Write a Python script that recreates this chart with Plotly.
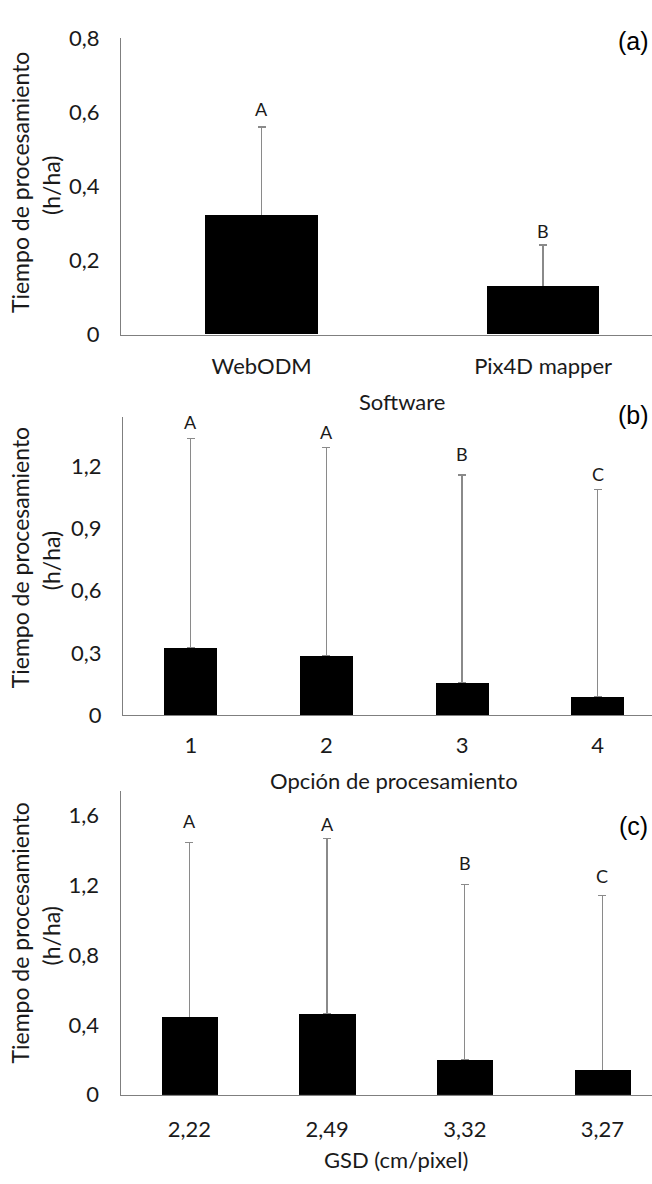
import plotly.graph_objects as go

# ---- data ----
software = ["WebODM", "Pix4D mapper"]
software_mean = [0.322, 0.130]
software_err = [0.239, 0.112]
software_letters = ["A", "B"]

opcion = ["1", "2", "3", "4"]
opcion_mean = [0.327, 0.287, 0.159, 0.088]
opcion_err = [1.007, 1.004, 0.999, 0.999]
opcion_letters = ["A", "A", "B", "C"]

gsd = ["2,22", "2,49", "3,32", "3,27"]
gsd_mean = [0.444, 0.463, 0.201, 0.140]
gsd_err = [1.001, 1.003, 1.004, 1.001]
gsd_letters = ["A", "A", "B", "C"]

yticks_a = [0, 0.2, 0.4, 0.6, 0.8]
yticktext_a = ["0", "0,2", "0,4", "0,6", "0,8"]
yticks_b = [0, 0.3, 0.6, 0.9, 1.2]
yticktext_b = ["0", "0,3", "0,6", "0,9", "1,2"]
yticks_c = [0, 0.4, 0.8, 1.2, 1.6]
yticktext_c = ["0", "0,4", "0,8", "1,2", "1,6"]

# ---- page geometry (pixels) ----
W, H = 652, 1184
FONT = "Lato"
TXT = "#1a1a1a"
AXIS = "#7f7f7f"
ERR = "#8a8a8a"
TICK_SIZE = 22


def px(x):
    return x / W


def py(y):
    return 1 - y / H


panels = [
    dict(cats=software, mean=software_mean, err=software_err, letters=software_letters,
         shifts=[18, 14], width=0.40, xdom=(121, 652), ydom=(25, 328), xmax=1.387,
         ymax=0.8, tv=yticks_a, tt=yticktext_a, xtitle="Software", xty=397, xtx=402,
         tag="(a)", tagy=28, ytitle_y=173, xticklen=12),
    dict(cats=opcion, mean=opcion_mean, err=opcion_err, letters=opcion_letters,
         shifts=[16, 15, 21, 16], width=0.39, xdom=(123, 652), ydom=(412, 717.7), xmax=3.4,
         ymax=1.439, tv=yticks_b, tt=yticktext_b, xtitle="Opción de procesamiento", xty=784,
         xtx=394, tag="(b)", tagy=410, ytitle_y=557, xticklen=10),
    dict(cats=gsd, mean=gsd_mean, err=gsd_err, letters=gsd_letters,
         shifts=[21, 15, 21, 19], width=0.41, xdom=(120.6, 652), ydom=(795, 1106), xmax=3.36,
         ymax=1.74, tv=yticks_c, tt=yticktext_c, xtitle="GSD (cm/pixel)", xty=1172,
         xtx=396, tag="(c)", tagy=831, ytitle_y=941, xticklen=15),
]

fig = go.Figure()
annotations = []
layout_axes = {}

for i, p in enumerate(panels, start=1):
    xa = "x" if i == 1 else f"x{i}"
    ya = "y" if i == 1 else f"y{i}"
    n = len(p["cats"])
    # bar with upward-only error bar
    fig.add_trace(go.Bar(
        x=p["cats"], y=p["mean"], width=p["width"],
        marker=dict(color="black", line=dict(width=0)),
        error_y=dict(type="data", array=p["err"], arrayminus=[0] * n,
                     symmetric=False, color=ERR, thickness=1.3, width=4),
        xaxis=xa, yaxis=ya, showlegend=False, hoverinfo="skip",
    ))
    # same bar again on top so the error bar starts cleanly at the bar top
    fig.add_trace(go.Bar(
        x=p["cats"], y=p["mean"], width=p["width"],
        marker=dict(color="black", line=dict(width=0)),
        xaxis=xa, yaxis=ya, showlegend=False,
    ))
    xkey = "xaxis" if i == 1 else f"xaxis{i}"
    ykey = "yaxis" if i == 1 else f"yaxis{i}"
    layout_axes[xkey] = dict(
        domain=[px(p["xdom"][0]), px(p["xdom"][1])], anchor=ya, type="category",
        range=[-0.5, p["xmax"]], showline=True, linecolor=AXIS, linewidth=1.3,
        ticks="outside", ticklen=p["xticklen"], tickcolor="rgba(0,0,0,0)",
        tickfont=dict(family=FONT, size=TICK_SIZE, color=TXT), showgrid=False,
        zeroline=False,
    )
    layout_axes[ykey] = dict(
        domain=[py(p["ydom"][1]), py(p["ydom"][0])], anchor=xa,
        range=[0, p["ymax"]], showline=True, linecolor=AXIS, linewidth=1.3,
        tickvals=p["tv"], ticktext=p["tt"], ticks="outside", ticklen=16,
        tickcolor="rgba(0,0,0,0)", tickfont=dict(family=FONT, size=TICK_SIZE, color=TXT),
        showgrid=False, zeroline=False,
    )
    # significance letters above each error bar (x given as category index)
    for j, (m, e, L, s) in enumerate(zip(p["mean"], p["err"], p["letters"], p["shifts"])):
        annotations.append(dict(x=j, y=m + e, xref=xa, yref=ya, text=L, showarrow=False,
                                yshift=s, font=dict(family=FONT, size=18, color=TXT)))
    # x axis title
    annotations.append(dict(x=px(p["xtx"]), y=py(p["xty"]), xref="paper", yref="paper",
                            text=p["xtitle"], showarrow=False, xanchor="center",
                            yanchor="middle",
                            font=dict(family=FONT, size=TICK_SIZE, color=TXT)))
    # y axis title (two lines)
    annotations.append(dict(x=px(20), y=py(p["ytitle_y"]), xref="paper", yref="paper",
                            text="Tiempo de procesamiento", textangle=-90, showarrow=False,
                            xanchor="center", yanchor="middle",
                            font=dict(family=FONT, size=23, color=TXT)))
    annotations.append(dict(x=px(51), y=py(p["ytitle_y"] + 3), xref="paper", yref="paper",
                            text="(h/ha)", textangle=-90, showarrow=False,
                            xanchor="center", yanchor="middle",
                            font=dict(family=FONT, size=23, color=TXT)))
    # panel tag
    annotations.append(dict(x=px(633), y=py(p["tagy"]), xref="paper", yref="paper",
                            text=p["tag"], showarrow=False, xanchor="center",
                            yanchor="middle",
                            font=dict(family="Liberation Sans", size=25, color="black")))

fig.update_layout(
    width=W, height=H, margin=dict(l=0, r=0, t=0, b=0),
    paper_bgcolor="white", plot_bgcolor="white", barmode="overlay",
    annotations=annotations, bargap=0, **layout_axes,
)

fig.write_html("out.html")
